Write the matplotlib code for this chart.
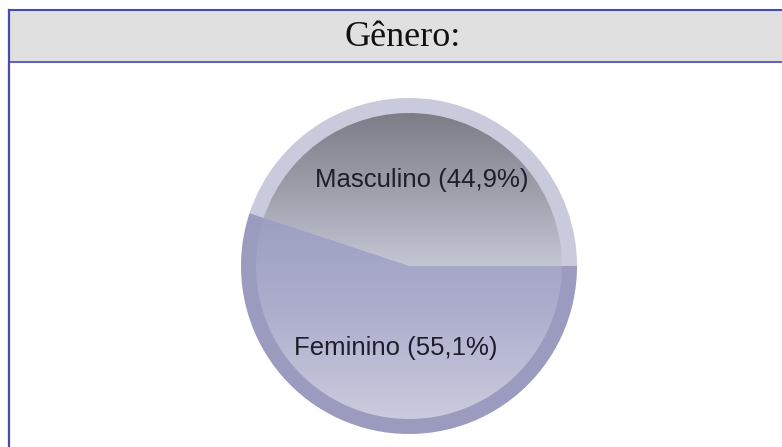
import numpy as np
import matplotlib.pyplot as plt
from matplotlib.colors import LinearSegmentedColormap

# dados
categorias = ['Masculino', 'Feminino']
percentuais = [44.9, 55.1]
titulo = 'Gênero:'

W, H = 782, 447
fig = plt.figure(figsize=(W / 100, H / 100), dpi=100)
ax = fig.add_axes([0, 0, 1, 1])
ax.set_xlim(0, W)
ax.set_ylim(0, H)
ax.set_aspect('equal')
ax.axis('off')

# moldura e cabecalho
borda = '#4a4ab4'
ax.fill_between([10, W], H - 62, H - 10, color='#e0e0e0', zorder=0)
ax.plot([9, W], [H - 10, H - 10], color=borda, lw=1.5, zorder=1)
ax.plot([9, W], [H - 62, H - 62], color=borda, lw=1.2, zorder=1)
ax.plot([9, 9], [0, H - 10], color=borda, lw=1.6, zorder=1)
ax.text(403, H - 38, titulo, ha='center', va='center', fontsize=26,
        family=['Liberation Serif', 'DejaVu Serif'], color='#111111')

cx, cy, r = 409, H - 266, 168
borda_pizza = 15

# anel externo
aro_cores = ['#c9cadb', '#9a9bbf']
aro, _ = ax.pie(percentuais, colors=aro_cores, startangle=0, counterclock=True,
                radius=r, center=(cx, cy), frame=True,
                wedgeprops=dict(linewidth=0))

# fatias internas com gradiente
internas, _ = ax.pie(percentuais, colors=['none', 'none'], startangle=0,
                     counterclock=True, radius=r - borda_pizza, center=(cx, cy),
                     frame=True, wedgeprops=dict(linewidth=0))

gradientes = [
    (['#c6c7d5', '#9d9fab', '#7b7d87'], cy - 2, cy + r - borda_pizza),
    (['#cacbdd', '#aeafcd', '#9c9ec1'], cy - r + borda_pizza, cy + 55),
]
grad = np.linspace(0, 1, 256).reshape(-1, 1)
for fatia, (cores, y0, y1) in zip(internas, gradientes):
    cmap = LinearSegmentedColormap.from_list('g', cores)
    im = ax.imshow(grad, cmap=cmap, origin='lower', aspect='auto',
                   extent=[cx - r, cx + r, y0, y1], zorder=3)
    im.set_clip_path(fatia)
    fatia.set_zorder(3)

# rotulos
rotulos = [f'{c} ({str(p).replace(".", ",")}%)' for c, p in zip(categorias, percentuais)]
pos_rotulos = [(422, H - 180), (396, H - 348)]
for txt, (x, y) in zip(rotulos, pos_rotulos):
    ax.text(x, y, txt, ha='center', va='center', fontsize=18.5,
            family=['Liberation Sans', 'DejaVu Sans'], color='#1e1e2c', zorder=5)

ax.set_xlim(0, W)
ax.set_ylim(0, H)
ax.axis('off')
fig.savefig('out.png', dpi=100)
